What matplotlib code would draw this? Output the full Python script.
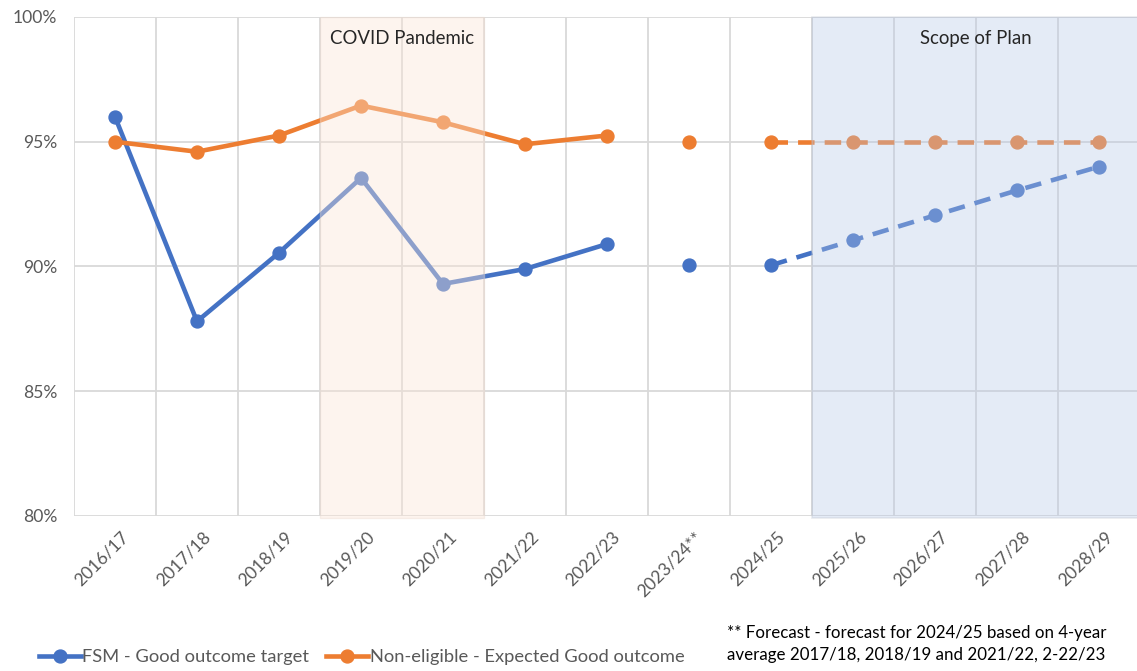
import matplotlib.pyplot as plt
import matplotlib.transforms as mtransforms
from matplotlib.patches import Rectangle
from matplotlib.lines import Line2D

plt.rcParams['font.family'] = ['Lato', 'DejaVu Sans']

# data (percent)
years = ['2016/17', '2017/18', '2018/19', '2019/20', '2020/21', '2021/22', '2022/23',
         '2023/24**', '2024/25', '2025/26', '2026/27', '2027/28', '2028/29']
fsm = [96.0, 87.8, 90.55, 93.55, 89.3, 89.9, 90.9,
       90.05, 90.05, 91.05, 92.05, 93.05, 94.0]
non_eligible = [95.0, 94.6, 95.25, 96.45, 95.78, 94.9, 95.25,
                95.0, 95.0, 95.0, 95.0, 95.0, 95.0]
legend_labels = ['FSM - Good outcome target', 'Non-eligible - Expected Good outcome']
footnote = ('** Forecast - forecast for 2024/25 based on 4-year\n'
            'average 2017/18, 2018/19 and 2021/22, 2-22/23')

# segments: actuals, lone forecast point, plan (dashed)
actual_idx = list(range(0, 7))
forecast_idx = [7]
plan_idx = list(range(8, 13))

blue = '#4472C4'
orange = '#ED7D31'
grid_col = '#D9D9D9'
text_col = '#595959'

fig = plt.figure(figsize=(11.37, 6.71), dpi=100)
ax = fig.add_axes([74 / 1137, 155 / 671, 1066 / 1137, 499 / 671])

x = list(range(len(years)))
lw = 3.3
ms = 9.3
for vals, col in [(fsm, blue), (non_eligible, orange)]:
    ax.plot([x[i] for i in actual_idx], [vals[i] for i in actual_idx],
            color=col, lw=lw, marker='o', ms=ms, zorder=2)
    ax.plot([x[i] for i in forecast_idx], [vals[i] for i in forecast_idx],
            color=col, lw=0, marker='o', ms=ms, zorder=2)
    ax.plot([x[i] for i in plan_idx], [vals[i] for i in plan_idx],
            color=col, lw=lw, marker='o', ms=ms, dashes=(3.6, 2.2), zorder=2)

ax.set_xlim(-0.5, len(years) - 0.5)
ax.set_ylim(80, 100)
ax.set_yticks([80, 85, 90, 95, 100])
ax.set_yticklabels(['80%', '85%', '90%', '95%', '100%'])
ax.set_xticks(x)
ax.set_xticklabels(years, rotation=45, ha='right', rotation_mode='anchor')
ax.set_xticks([i - 0.5 for i in range(len(years) + 1)], minor=True)
ax.tick_params(axis='both', which='both', length=0, labelsize=12.6, labelcolor=text_col)
ax.tick_params(axis='y', pad=12)
ax.tick_params(axis='x', pad=9)
shift = mtransforms.ScaledTranslation(5 / 100, 0, fig.dpi_scale_trans)
for lab in ax.get_xticklabels():
    lab.set_transform(lab.get_transform() + shift)
ax.grid(axis='y', which='major', color=grid_col, lw=1.3, zorder=0)
ax.grid(axis='x', which='minor', color=grid_col, lw=1.3, zorder=0)
ax.set_axisbelow(True)
for s in ax.spines.values():
    s.set_visible(False)

# shaded overlays
covid = Rectangle((2.5, 79.9), 2.0, 20.1, facecolor='#FBE5D6', alpha=0.4,
                  edgecolor='#EAD9CE', lw=1, zorder=3, clip_on=False)
scope = Rectangle((8.5, 79.9), 4.2, 20.1, facecolor='#B4C7E7', alpha=0.35,
                  edgecolor='#BFC5D0', lw=1.2, zorder=3, clip_on=False)
ax.add_patch(covid)
ax.add_patch(scope)
ax.text(3.5, 99.15, 'COVID Pandemic', ha='center', va='center', fontsize=13.4,
        color='#262626', zorder=4)
ax.text(10.5, 99.15, 'Scope of Plan', ha='center', va='center', fontsize=13.4,
        color='#262626', zorder=4)

handles = [Line2D([], [], color=blue, lw=lw, marker='o', ms=ms),
           Line2D([], [], color=orange, lw=lw, marker='o', ms=ms)]
fig.legend(handles, legend_labels, loc='center left', bbox_to_anchor=(22 / 1137, 1 - 657 / 671),
           ncol=2, frameon=False, fontsize=13.2, labelcolor=text_col,
           handlelength=2.3, handletextpad=0.1, columnspacing=0.9)

fig.text(727 / 1137, 1 - 644 / 671, footnote, ha='left', va='center', fontsize=12.2,
         color='black', linespacing=1.5)

fig.savefig('out.png', dpi=100)
